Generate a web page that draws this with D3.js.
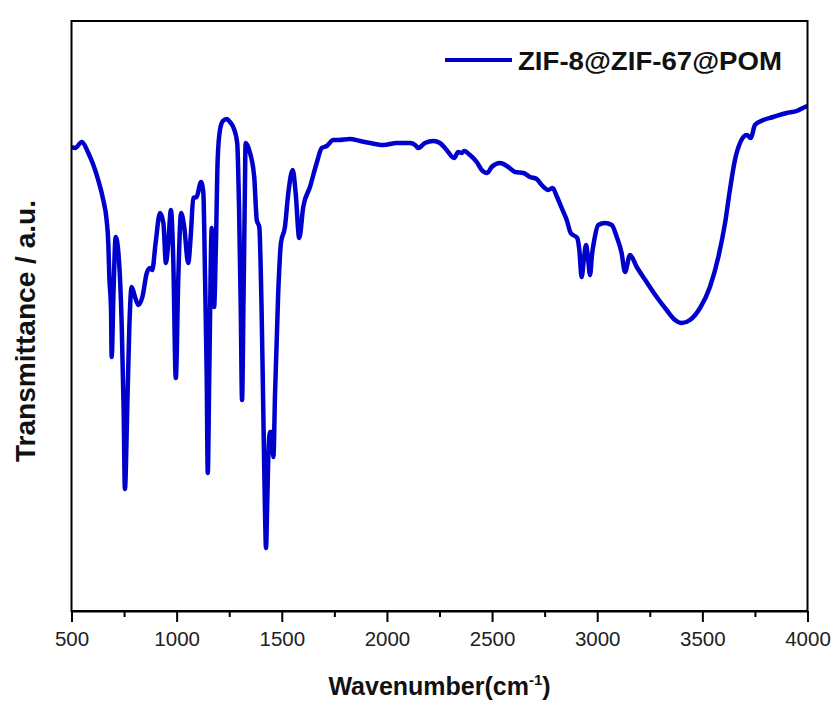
<!DOCTYPE html>
<html>
<head>
<meta charset="utf-8">
<script src="https://cdn.jsdelivr.net/npm/d3@7"></script>
<style>
  body { margin: 0; background: #fff; }
  svg { display: block; font-family: Arial, "Liberation Sans", sans-serif; }
</style>
</head>
<body>
<svg width="835" height="704"></svg>
<script>
// FTIR spectrum, values (transmittance in arbitrary units)
const wavenumber = [
  501, 517, 549, 580, 604, 627, 651, 667, 675, 680, 688, 691, 700, 710, 723, 739, 748, 754, 765, 775,
  786, 802, 818, 837, 858, 873, 884, 900, 921, 937, 949, 960, 973, 984, 996, 1008, 1021, 1036, 1055, 1068,
  1079, 1095, 1116, 1127, 1135, 1143, 1148, 1155, 1167, 1178, 1187, 1195, 1206, 1220, 1238, 1254, 1269, 1288, 1297, 1305,
  1311, 1318, 1324, 1328, 1349, 1369, 1381, 1393, 1404, 1412, 1420, 1425, 1431, 1437, 1444, 1451, 1460, 1468, 1483, 1496,
  1515, 1531, 1552, 1566, 1583, 1602, 1634, 1666, 1690, 1714, 1745, 1769, 1824, 1872, 1920, 1983, 2047, 2110, 2134, 2149,
  2181, 2221, 2252, 2284, 2319, 2339, 2356, 2367, 2395, 2427, 2451, 2477, 2498, 2538, 2577, 2609, 2649, 2680, 2712, 2736,
  2767, 2788, 2807, 2831, 2855, 2874, 2905, 2915, 2926, 2937, 2947, 2956, 2966, 2975, 2986, 3005, 3037, 3069, 3093, 3116,
  3132, 3156, 3188, 3235, 3283, 3330, 3370, 3402, 3441, 3489, 3536, 3576, 3608, 3631, 3655, 3679, 3711, 3730, 3750, 3790,
  3837, 3901, 3949, 3988, 4000
];
const transmittance = [
  464, 463, 469, 458, 446, 431, 411, 391, 368, 334, 301, 254, 321, 374, 358, 284, 201, 122, 201, 284,
  324, 314, 306, 314, 338, 343, 341, 368, 398, 388, 348, 368, 401, 351, 233, 334, 398, 384, 348, 378,
  413, 414, 429, 418, 334, 234, 138, 234, 383, 304, 368, 451, 481, 490, 492, 489, 484, 468, 401, 301,
  211, 311, 411, 468, 458, 434, 391, 384, 301, 201, 101, 63, 111, 161, 179, 179, 154, 218, 318, 368,
  384, 418, 441, 418, 373, 404, 424, 448, 463, 465, 471, 471, 472, 470, 468, 466, 468, 468, 466, 463,
  468, 470, 468, 461, 453, 459, 458, 460, 456, 449, 441, 438, 444, 448, 444, 439, 438, 434, 432, 426,
  421, 423, 415, 403, 391, 378, 373, 361, 334, 353, 366, 353, 336, 356, 371, 386, 388, 386, 374, 358,
  339, 356, 344, 329, 314, 301, 291, 288, 291, 303, 324, 354, 388, 421, 451, 468, 476, 473, 486, 491,
  494, 498, 500, 504, 505
];
const majorTicks = [500, 1000, 1500, 2000, 2500, 3000, 3500, 4000];
const minorTicks = [750, 1250, 1750, 2250, 2750, 3250, 3750];
const seriesName = 'ZIF-8@ZIF-67@POM';

const svg = d3.select('svg');
const margin = { top: 21, right: 27.5, bottom: 93, left: 71.5 };
const width = +svg.attr('width');
const height = +svg.attr('height');
const chartWidth = width - margin.left - margin.right;
const chartHeight = height - margin.top - margin.bottom;
const blue = '#0000cc';

const g = svg.append('g').attr('transform', `translate(${margin.left},${margin.top})`);

const x = d3.scaleLinear().domain([500, 4000]).range([0, chartWidth]);
const y = d3.scaleLinear().domain([0, 590]).range([chartHeight, 0]);

const data = wavenumber.map((w, i) => ({ w, t: transmittance[i] }));

// spectrum
g.append('path')
  .datum(data)
  .attr('fill', 'none')
  .attr('stroke', blue)
  .attr('stroke-width', 4.5)
  .attr('stroke-linejoin', 'round')
  .attr('d', d3.line().x(d => x(d.w)).y(d => y(d.t)).curve(d3.curveMonotoneX));

// frame
g.append('rect')
  .attr('width', chartWidth)
  .attr('height', chartHeight)
  .attr('fill', 'none')
  .attr('stroke', '#000')
  .attr('stroke-width', 2);

// minor ticks
g.append('g')
  .attr('transform', `translate(0,${chartHeight})`)
  .call(d3.axisBottom(x).tickValues(minorTicks).tickSize(6).tickSizeOuter(0).tickFormat(''))
  .call(a => a.select('.domain').remove())
  .call(a => a.selectAll('line').attr('stroke-width', 2));

// major ticks + labels
const xAxis = g.append('g')
  .attr('transform', `translate(0,${chartHeight})`)
  .call(d3.axisBottom(x).tickValues(majorTicks).tickSize(11).tickSizeOuter(0).tickPadding(9)
    .tickFormat(d3.format('d')));
xAxis.select('.domain').attr('stroke-width', 2);
xAxis.selectAll('line').attr('stroke-width', 2);
xAxis.selectAll('text')
  .attr('font-size', 20.5)
  .attr('fill', '#222')
  .attr('font-family', 'Arial, "Liberation Sans", sans-serif');

// x title
const xt = svg.append('text')
  .attr('x', margin.left + chartWidth / 2)
  .attr('y', 695)
  .attr('text-anchor', 'middle')
  .attr('font-size', 25)
  .attr('font-weight', 'bold')
  .attr('fill', '#111');
xt.append('tspan').text('Wavenumber(cm');
xt.append('tspan').attr('font-size', 15).attr('dy', -10).text('-1');
xt.append('tspan').attr('dy', 10).text(')');

// y title
svg.append('text')
  .attr('transform', 'translate(35,331) rotate(-90)')
  .attr('text-anchor', 'middle')
  .attr('font-size', 27)
  .attr('font-weight', 'bold')
  .attr('fill', '#111')
  .attr('textLength', 262)
  .attr('lengthAdjust', 'spacingAndGlyphs')
  .text('Transmittance / a.u.');

// legend
const legend = svg.append('g');
legend.append('line')
  .attr('x1', 445).attr('x2', 512)
  .attr('y1', 60).attr('y2', 60)
  .attr('stroke', blue)
  .attr('stroke-width', 4);
legend.append('text')
  .attr('x', 518)
  .attr('y', 70)
  .attr('font-size', 26)
  .attr('font-weight', 'bold')
  .attr('fill', '#111')
  .attr('textLength', 264)
  .attr('lengthAdjust', 'spacingAndGlyphs')
  .text(seriesName);
</script>
</body>
</html>
